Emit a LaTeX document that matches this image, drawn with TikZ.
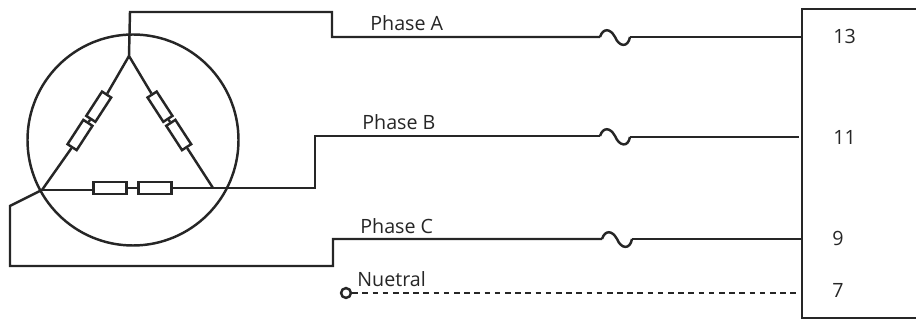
\documentclass[tikz,border=0pt]{standalone}
\usepackage{fontspec}
\setmainfont{Open Sans}
\usetikzlibrary{positioning}
\tikzset{
  wire/.style={line width=1.4pt,line join=miter,color=black!85},
  coil/.style={draw,rectangle,line width=1.4pt,color=black!85,minimum width=19pt,minimum height=6.8pt,inner sep=0pt,fill=white},
  legcoil/.style={coil,minimum width=16.5pt,minimum height=6.2pt},
  lbl/.style={right,inner sep=0pt,font=\fontsize{11.2pt}{13pt}\selectfont,color=black!85}
}
\newcommand{\fusewire}[2]{\draw[wire] (#1) .. controls +(3,-9) and +(-5,-9) .. ++(15,0) .. controls +(4,10) and +(-2,11) .. (#2);}
\begin{document}
\begin{tikzpicture}[x=0.02cm,y=-0.02cm]
            \useasboundingbox (0,0) rectangle (916,320);
            % stator
            \node (stator) at (133,140) [draw,circle,line width=1.4pt,color=black!85,minimum size=211*0.02cm,inner sep=0pt] {};
            \coordinate (top) at (129,56);
            \coordinate (left) at (42,190);
            \coordinate (right) at (213,188);
            % windings
            \node (la) at (98.7,106.7) [legcoil,rotate=57] {};
            \node (lb) at (80,135) [legcoil,rotate=57] {};
            \node (ra) at (160,106.7) [legcoil,rotate=-57] {};
            \node (rb) at (178.7,135) [legcoil,rotate=-57] {};
            \node (ba) at (110,188) [coil] {};
            \node (bb) at (155,188) [coil] {};
            \draw[wire] (top)--(la.east);
            \draw[wire] (la.west)--(lb.east);
            \draw[wire] (lb.west)--(left);
            \draw[wire] (top)--(ra.west);
            \draw[wire] (ra.east)--(rb.west);
            \draw[wire] (rb.east)--(right);
            \draw[wire] (left)--(left -| ba.west);
            \draw[wire] (ba.east)--(bb.west);
            \draw[wire] (bb.east)--(right);
            % terminal block
            \coordinate (boxtop) at (916,9);
            \coordinate (boxbot) at (916,318);
            \coordinate (boxa) at (802,9);
            \coordinate (boxb) at (802,318);
            \draw[wire] (boxtop)--(boxa)--(boxb)--(boxbot);
            % fuses
            \coordinate (fa) at (600,37);
            \coordinate (fa2) at (630,37);
            \coordinate (fb) at (600,136);
            \coordinate (fb2) at (630,137);
            \coordinate (fc) at (602,239);
            \coordinate (fc2) at (632,239);
            \fusewire{fa}{fa2}
            \fusewire{fb}{fb2}
            \fusewire{fc}{fc2}
            % phase lines
            \draw[wire] (top)--(130,12)--(332,12)--(332,37)--(fa);
            \draw[wire] (fa2)--(802,37);
            \draw[wire] (right)--(315,188)--(315,136)--(fb);
            \draw[wire] (fb2)--(799,137);
            \draw[wire] (left)--(10,206)--(10,266)--(333,266)--(333,239)--(fc);
            \draw[wire] (fc2)--(802,239);
            \node (nut) at (346,293) [draw,circle,line width=1.4pt,color=black!85,minimum size=5.6pt,inner sep=0pt] {};
            \coordinate (nutend) at (799,293);
            \draw[wire,dash pattern=on 3.2pt off 2.6pt] (nut)--(nutend);
            % labels
            \node (pa) at (370,23) [lbl] {Phase A};
            \node (pb) at (362,122) [lbl] {Phase B};
            \node (pc) at (360,226) [lbl] {Phase C};
            \node (pn) at (357,279) [lbl] {Nuetral};
            \node (ta) at (833,36) [lbl] {13};
            \node (tb) at (833,137) [lbl] {11};
            \node (tc) at (832,238) [lbl] {9};
            \node (td) at (832,290) [lbl] {7};
        \end{tikzpicture}
\end{document}
